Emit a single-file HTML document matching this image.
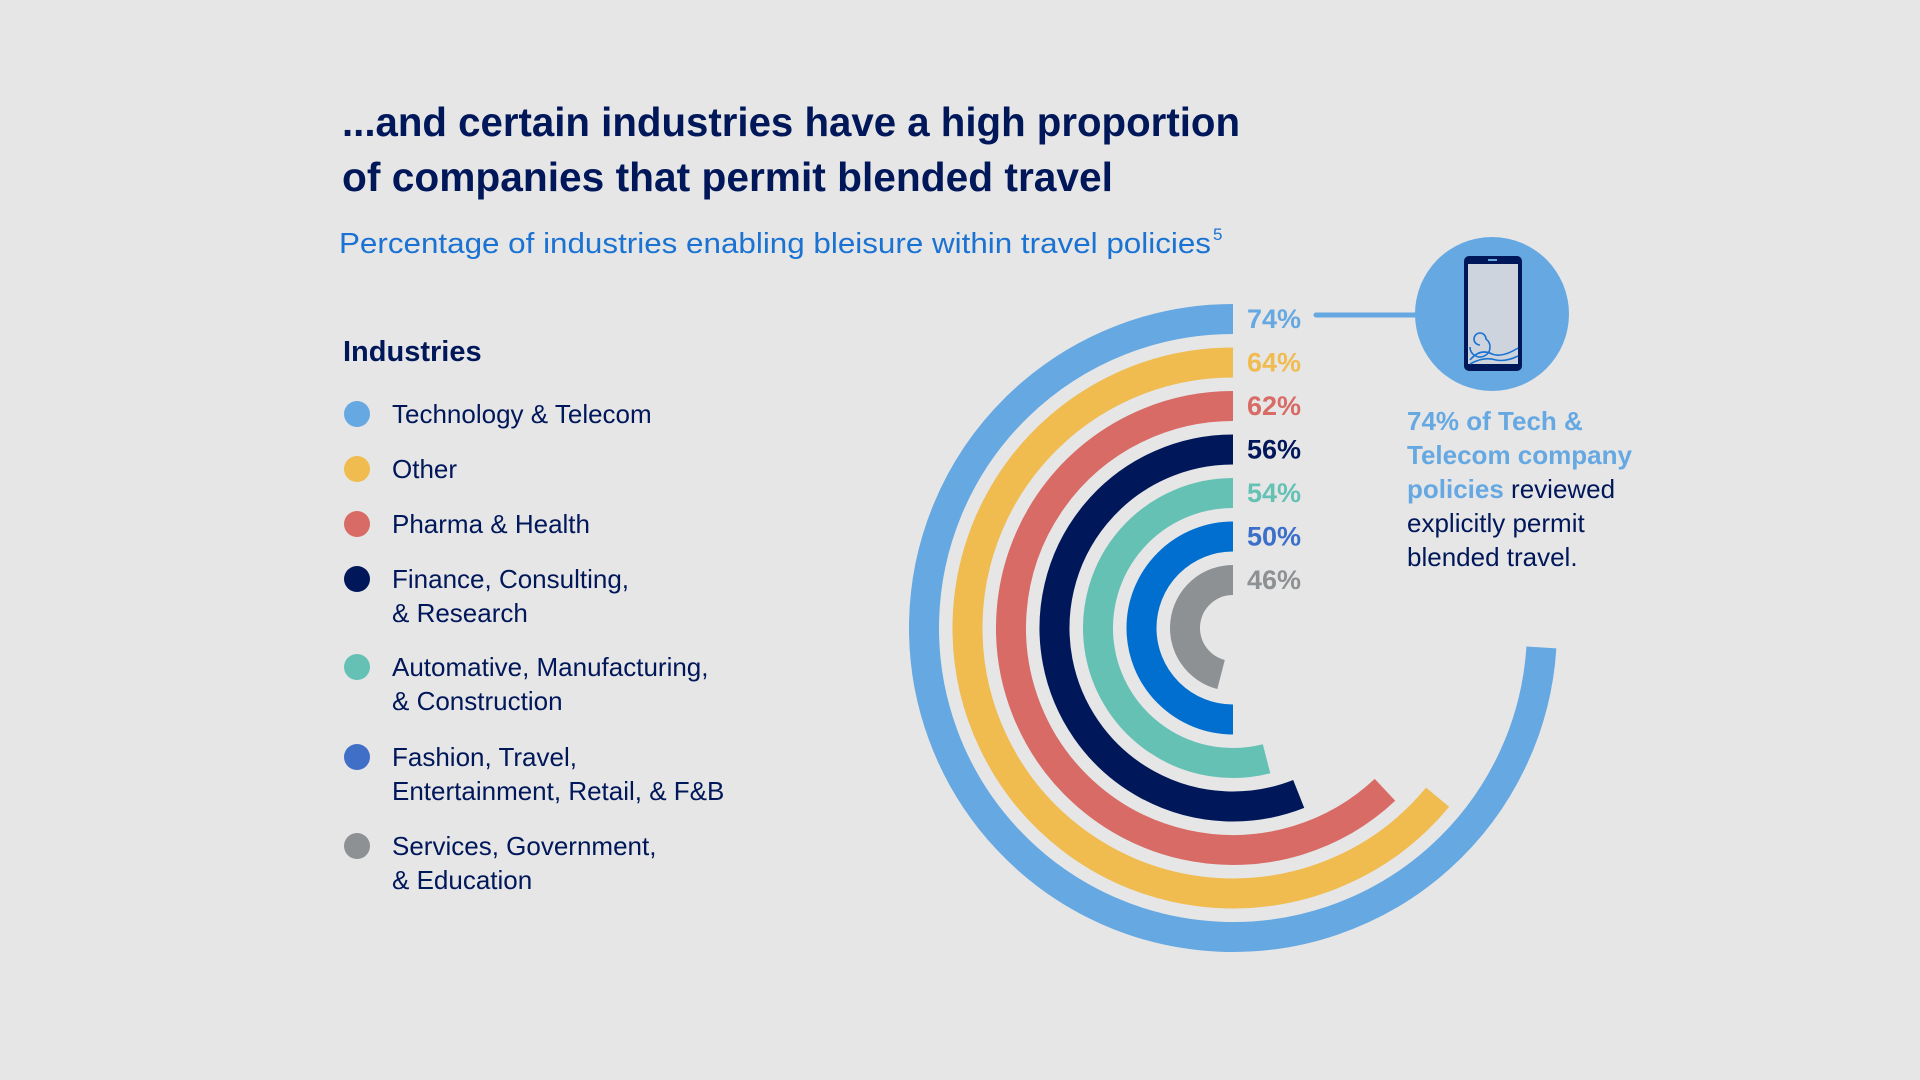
<!DOCTYPE html>
<html><head><meta charset="utf-8"><style>
html,body{margin:0;padding:0;background:#e6e6e6;}
svg{display:block;font-family:"Liberation Sans",sans-serif;}
</style></head><body>
<svg id="chart" width="1920" height="1080" viewBox="0 0 1920 1080" xmlns="http://www.w3.org/2000/svg">
<rect x="0" y="0" width="1920" height="1080" fill="#e6e6e6"/>
<g fill="#00175a" font-weight="bold" font-size="41">
<text x="342" y="136" textLength="898" lengthAdjust="spacingAndGlyphs">...and certain industries have a high proportion</text>
<text x="342" y="191" textLength="771" lengthAdjust="spacingAndGlyphs">of companies that permit blended travel</text>
</g>
<text x="339" y="253" fill="#1a72d2" font-size="29" textLength="872" lengthAdjust="spacingAndGlyphs">Percentage of industries enabling bleisure within travel policies</text>
<text x="1213" y="240" fill="#1a72d2" font-size="17">5</text>
<text x="343" y="361" fill="#00175a" font-size="29" font-weight="bold">Industries</text>
<g id="legend"></g>
<g id="arcs"></g>
<g id="labels"></g>
<line x1="1316" y1="315" x2="1420" y2="315" stroke="#66a8e2" stroke-width="5" stroke-linecap="round"/>
<g>
<circle cx="1492" cy="314" r="77" fill="#66a8e2"/>
<rect x="1464" y="256" width="58" height="115" rx="5" fill="#00175a"/>
<rect x="1468" y="264" width="50" height="100" fill="#cdd4de"/>
<rect x="1488" y="259" width="9" height="2" fill="#66a8e2"/>
<g fill="none" stroke="#1a72d2" stroke-width="1.6">
<path d="M1480 345 a6 6 0 1 1 6 -6 a10 10 0 1 1 -16 8"/>
<path d="M1470 360 q10 -12 22 -6 q10 4 26 -6"/>
<path d="M1470 364 q14 -8 26 -4 q10 2 22 -4"/>
</g>
</g>
<g font-size="26">
<text x="1407" y="430" fill="#66a8e2" font-weight="bold">74% of Tech &amp;</text>
<text x="1407" y="464" fill="#66a8e2" font-weight="bold">Telecom company</text>
<text x="1407" y="498"><tspan fill="#66a8e2" font-weight="bold">policies</tspan><tspan fill="#00175a"> reviewed</tspan></text>
<text x="1407" y="532" fill="#00175a">explicitly permit</text>
<text x="1407" y="566" fill="#00175a">blended travel.</text>
</g>
</svg>
<script>
const categories = [
  ["Technology & Telecom"],
  ["Other"],
  ["Pharma & Health"],
  ["Finance, Consulting,", "& Research"],
  ["Automative, Manufacturing,", "& Construction"],
  ["Fashion, Travel,", "Entertainment, Retail, & F&B"],
  ["Services, Government,", "& Education"]
];
const values = [74, 64, 62, 56, 54, 50, 46];
const valueLabels = ["74%", "64%", "62%", "56%", "54%", "50%", "46%"];
const arcColors = ["#66a8e2", "#f0bb4f", "#d86b65", "#00175a", "#66c1b5", "#006fcf", "#8e9193"];
const labelColors = ["#66a8e2", "#f0bb4f", "#d86b65", "#00175a", "#66c1b5", "#3b6fc9", "#8e9193"];
const dotColors = ["#66a8e2", "#f0bb4f", "#d86b65", "#00175a", "#66c1b5", "#3f6fc7", "#8e9193"];

const NS = "http://www.w3.org/2000/svg";
const cx = 1233, cy = 628, r0 = 309, pitch = 43.5, thick = 30;
function radius(i){ return r0 - pitch * i; }
function angle(v){ return v / 100 * 2 * Math.PI; }
function pt(r, a){ return [cx - r * Math.sin(a), cy - r * Math.cos(a)]; }

const arcs = document.getElementById('arcs');
const labels = document.getElementById('labels');
values.forEach((v, i) => {
  const r = radius(i), a = angle(v);
  const s = pt(r, 0), e = pt(r, a);
  const large = a > Math.PI ? 1 : 0;
  const p = document.createElementNS(NS, 'path');
  p.setAttribute('d', `M${s[0]} ${s[1]} A${r} ${r} 0 ${large} 0 ${e[0]} ${e[1]}`);
  p.setAttribute('fill', 'none');
  p.setAttribute('stroke', arcColors[i]);
  p.setAttribute('stroke-width', thick);
  
  
  arcs.appendChild(p);
  const t = document.createElementNS(NS, 'text');
  t.setAttribute('x', cx + 14);
  t.setAttribute('y', cy - r + 9);
  t.setAttribute('fill', labelColors[i]);
  t.setAttribute('font-size', '27');
  t.setAttribute('font-weight', 'bold');
  t.textContent = valueLabels[i];
  
  
  labels.appendChild(t);
});

const legend = document.getElementById('legend');
const rowY = [414, 469, 524, 579, 667, 757, 846];
categories.forEach((lines, i) => {
  const g = document.createElementNS(NS, 'g');
  
  
  const c = document.createElementNS(NS, 'circle');
  c.setAttribute('cx', 357); c.setAttribute('cy', rowY[i]); c.setAttribute('r', 13);
  c.setAttribute('fill', dotColors[i]);
  g.appendChild(c);
  lines.forEach((ln, j) => {
    const t = document.createElementNS(NS, 'text');
    t.setAttribute('x', 392);
    t.setAttribute('y', rowY[i] + 9 + j * 34);
    t.setAttribute('fill', '#00175a');
    t.setAttribute('font-size', '26');
    t.textContent = ln;
    g.appendChild(t);
  });
  legend.appendChild(g);
});
</script>
</body></html>
